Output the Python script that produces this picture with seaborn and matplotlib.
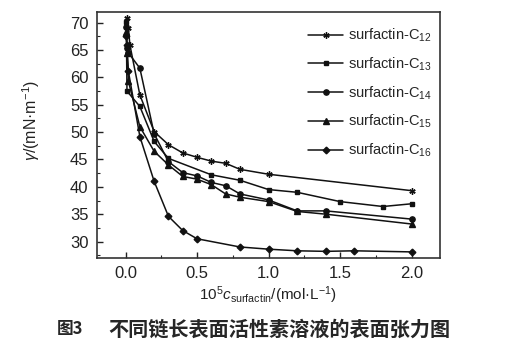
import matplotlib
matplotlib.use("Agg")
import matplotlib.pyplot as plt
from matplotlib.ticker import MultipleLocator
import numpy as np
import pandas as pd
import seaborn as sns

# Surface tension of surfactin homologues vs. concentration
series_names = ["surfactin-C$_{12}$", "surfactin-C$_{13}$", "surfactin-C$_{14}$",
                "surfactin-C$_{15}$", "surfactin-C$_{16}$"]

c12_x = [0.01, 0.02, 0.03, 0.1, 0.2, 0.3, 0.4, 0.5, 0.6, 0.7, 0.8, 1.0, 2.0]
c12_y = [70.8, 69.0, 66.0, 56.8, 50.1, 47.7, 46.2, 45.4, 44.7, 44.3, 43.2, 42.3, 39.3]

c13_x = [0.005, 0.01, 0.1, 0.2, 0.3, 0.6, 0.8, 1.0, 1.2, 1.5, 1.8, 2.0]
c13_y = [70.2, 57.5, 54.7, 48.3, 45.2, 42.2, 41.2, 39.5, 39.0, 37.3, 36.4, 36.9]

c14_x = [0.005, 0.01, 0.02, 0.1, 0.2, 0.3, 0.4, 0.5, 0.6, 0.7, 0.8, 1.0, 1.2, 1.4, 2.0]
c14_y = [69.3, 65.4, 64.5, 61.7, 49.7, 44.6, 42.6, 42.0, 40.8, 40.2, 38.7, 37.6, 35.6, 35.6, 34.1]

c15_x = [0.005, 0.01, 0.02, 0.1, 0.2, 0.3, 0.4, 0.5, 0.6, 0.7, 0.8, 1.0, 1.2, 1.4, 2.0]
c15_y = [68.4, 64.5, 59.3, 51.0, 46.5, 44.0, 41.9, 41.4, 40.4, 38.7, 38.1, 37.3, 35.5, 35.0, 33.2]

c16_x = [0.005, 0.01, 0.02, 0.1, 0.2, 0.3, 0.4, 0.5, 0.8, 1.0, 1.2, 1.4, 1.6, 2.0]
c16_y = [67.5, 66.0, 61.1, 49.2, 41.0, 34.6, 32.0, 30.5, 29.0, 28.6, 28.3, 28.2, 28.3, 28.1]

x_ticks = [0.0, 0.5, 1.0, 1.5, 2.0]
y_ticks = [30, 35, 40, 45, 50, 55, 60, 65, 70]

all_x = [c12_x, c13_x, c14_x, c15_x, c16_x]
all_y = [c12_y, c13_y, c14_y, c15_y, c16_y]
marker_list = [(6, 2, 0), "s", "o", "^", "D"]
marker_sizes = [4.5, 3.4, 3.8, 4.0, 3.4]

sns.set_theme(style="ticks")
plt.rcParams["font.family"] = ["Liberation Sans", "DejaVu Sans"]
plt.rcParams["mathtext.fontset"] = "custom"
plt.rcParams["mathtext.rm"] = "Liberation Sans"
plt.rcParams["mathtext.it"] = "Liberation Sans:italic"

fig = plt.figure(figsize=(5.13, 3.49), dpi=100)
ax = fig.add_axes([0.189, 0.261, 0.669, 0.705])

for name, xs, ys, mk, ms in zip(series_names, all_x, all_y, marker_list, marker_sizes):
    d = pd.DataFrame({"c": xs, "gamma": ys})
    sns.lineplot(data=d, x="c", y="gamma", sort=False, color="#111111",
                 marker=mk, markersize=ms, markeredgewidth=1.0,
                 markeredgecolor="#111111", linewidth=1.1, label=name, ax=ax)

ax.set_xlim(-0.2, 2.2)
ax.set_ylim(27, 72)
ax.set_xticks(x_ticks)
ax.set_xticklabels([f"{v:.1f}" for v in x_ticks])
ax.set_yticks(y_ticks)
ax.xaxis.set_minor_locator(MultipleLocator(0.25))
ax.yaxis.set_minor_locator(MultipleLocator(2.5))
ax.tick_params(which="major", direction="in", length=4, width=1.0,
               labelsize=12, colors="#222222", pad=6)
ax.tick_params(which="minor", direction="in", length=2, width=0.8)
for sp in ax.spines.values():
    sp.set_linewidth(1.2)
    sp.set_color("#333333")

ax.set_xlabel(r"10$^5$$c_{\mathrm{surfactin}}$/(mol·L$^{-1}$)", fontsize=11,
              labelpad=2, color="#222222")
ax.set_ylabel(r"$\gamma$/(mN·m$^{-1}$)", fontsize=11.5, color="#222222")
ax.yaxis.set_label_coords(-0.16, 0.56)

leg = ax.legend(loc="upper right", frameon=False, fontsize=10.5, handlelength=2.4,
                handletextpad=0.3, labelspacing=0.78, borderaxespad=0.2,
                bbox_to_anchor=(1.0, 0.975))

fig.text(0.111, 0.058, "图3", fontsize=12, fontweight="bold",
         family=["Noto Sans CJK SC", "DejaVu Sans"], va="center", ha="left")
fig.text(0.212, 0.058, "不同链长表面活性素溶液的表面张力图", fontsize=14.5,
         fontweight="bold", family=["Noto Sans CJK SC", "DejaVu Sans"],
         va="center", ha="left")

fig.savefig("out.png", dpi=100)
